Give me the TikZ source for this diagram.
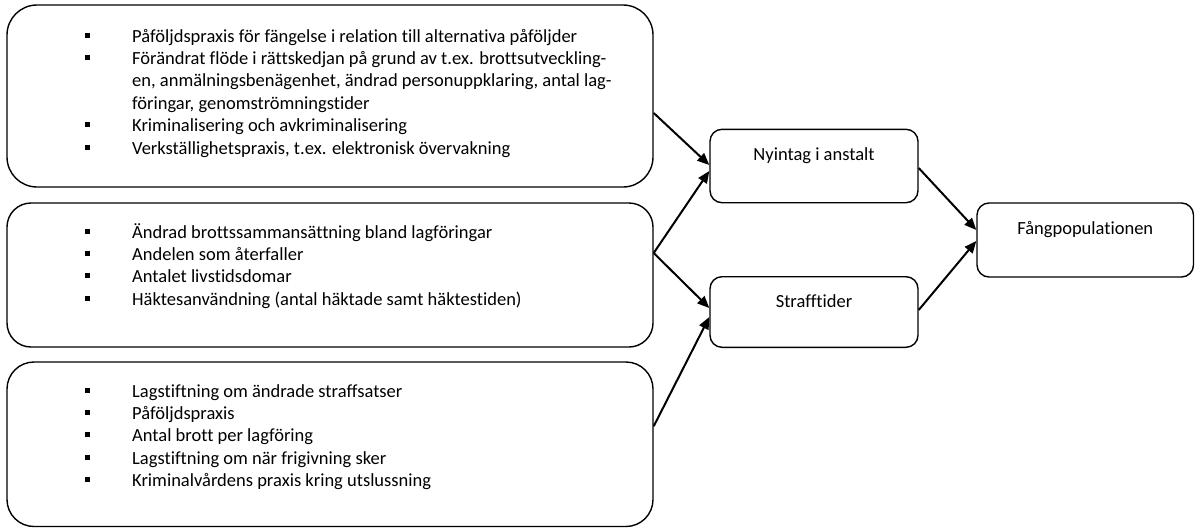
\documentclass[tikz,border=0pt]{standalone}
\usepackage{fontspec}
\setmainfont{Carlito}[Ligatures={NoCommon}]
\usetikzlibrary{arrows.meta}
\newcommand{\sqbul}{\raisebox{4.5pt}{\rule{4.5pt}{5pt}}}
\newcommand{\lbul}{\makebox[47pt][l]{\sqbul}}
\newcommand{\lnone}{\makebox[47pt][l]{}}
\begin{document}
\begin{tikzpicture}[x=1pt,y=-1pt,
  every node/.style={font=\fontsize{18.5pt}{22.4pt}\selectfont},
  bigbox/.style={draw, line width=1.4pt, rounded corners=#1, inner sep=0pt, minimum width=646pt},
  bigbox/.default=28pt,
  smallbox/.style={draw, line width=1.4pt, rounded corners=12pt, inner sep=0pt, minimum width=208pt, text height=31pt},
  listtext/.style={anchor=base west, inner sep=0pt, align=left},
  arr/.style={line width=2pt, -{Triangle[length=12pt,width=10pt]}}
]
\useasboundingbox (0,0) rectangle (1195,528);

% big boxes
\node[bigbox=30pt, minimum height=182pt] (b1) at (330,96) {};
\node[bigbox=24pt, minimum height=144pt] (b2) at (330,275) {};
\node[bigbox=27pt, minimum height=164.5pt] (b3) at (330,444.25) {};

% list texts
\node[listtext] (t1) at (85,42) {\begin{tabular}[t]{@{}l@{}l@{}}
\lbul & Påföljdspraxis för fängelse i relation till alternativa påföljder\\
\lbul & Förändrat flöde i rättskedjan på grund av t.ex. brottsutveckling-\\
\lnone & en, anmälningsbenägenhet, ändrad personuppklaring, antal lag-\\
\lnone & föringar, genomströmningstider\\
\lbul & Kriminalisering och avkriminalisering\\
\lbul & Verkställighetspraxis, t.ex. elektronisk övervakning
\end{tabular}};

\node[listtext] (t2) at (85,238) {\begin{tabular}[t]{@{}l@{}l@{}}
\lbul & Ändrad brottssammansättning bland lagföringar\\
\lbul & Andelen som återfaller\\
\lbul & Antalet livstidsdomar\\
\lbul & Häktesanvändning (antal häktade samt häktestiden)
\end{tabular}};

\node[listtext] (t3) at (85,397) {\begin{tabular}[t]{@{}l@{}l@{}}
\lbul & Lagstiftning om ändrade straffsatser\\
\lbul & Påföljdspraxis\\
\lbul & Antal brott per lagföring\\
\lbul & Lagstiftning om när frigivning sker\\
\lbul & Kriminalvårdens praxis kring utslussning
\end{tabular}};

% small boxes
\node[smallbox, text depth=42.4pt] (ny) at (814,166) {Nyintag i anstalt};
\node[smallbox, text depth=39.6pt] (st) at (814,312) {Strafftider};
\node[smallbox, minimum width=216.5pt, text depth=43pt] (fp) at (1085.25,240) {Fångpopulationen};

% connectors
\draw[arr] ([yshift=-17pt]b1.east) -- ([yshift=1pt]ny.west);
\draw[arr] ([yshift=22pt]b2.east) -- ([yshift=-5pt]ny.west);
\draw[arr] ([yshift=22pt]b2.east) -- ([yshift=4pt]st.west);
\draw[arr] ([yshift=18pt]b3.east) -- ([yshift=-5pt]st.west);
\draw[arr] ([yshift=-2pt]ny.east) -- ([yshift=10pt]fp.west);
\draw[arr] ([yshift=2pt]st.east) -- ([yshift=-1pt]fp.west);
\end{tikzpicture}
\end{document}
